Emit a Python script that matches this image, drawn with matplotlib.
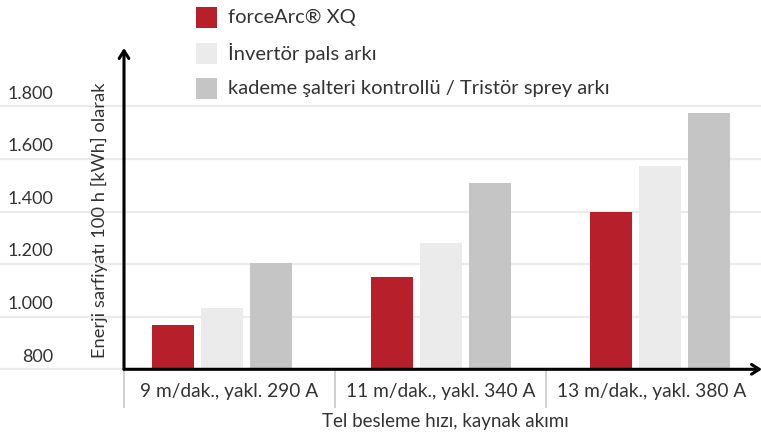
import matplotlib
matplotlib.use("Agg")
import matplotlib.pyplot as plt
import numpy as np

plt.rcParams['font.family'] = ['Lato', 'DejaVu Sans']

# ---- data ----
categories = ["9 m/dak., yakl. 290 A", "11 m/dak., yakl. 340 A", "13 m/dak., yakl. 380 A"]
series_names = ["forceArc® XQ", "İnvertör pals arkı", "kademe şalteri kontrollü / Tristör sprey arkı"]
forcearc = [970, 1150, 1400]
invertor = [1035, 1280, 1572]
kademe = [1205, 1510, 1773]
yticks = [800, 1000, 1200, 1400, 1600, 1800]
ytick_labels = ["800", "1.000", "1.200", "1.400", "1.600", "1.800"]
ylabel = "Enerji sarfiyatı 100 h [kWh] olarak"
xlabel = "Tel besleme hızı, kaynak akımı"

colors = ["#b71f2b", "#ebebeb", "#c5c5c5"]
text_color = "#333333"
grid_color = "#ebebeb"

W, H = 761, 437
fig = plt.figure(figsize=(W / 100, H / 100), dpi=100)
ax_l, ax_r, ax_b, ax_t = 124, 762, 369.3, 48
ax = fig.add_axes([ax_l / W, 1 - ax_b / H, (ax_r - ax_l) / W, (ax_b - ax_t) / H])

x = np.arange(len(categories))
off = 0.224
bw = 0.192
for i, (vals, c) in enumerate(zip([forcearc, invertor, kademe], colors)):
    ax.bar(x + (i - 1) * off, vals, width=bw, color=c, zorder=3)

ax.set_xlim(-0.4475, 2.466)
ax.set_ylim(800, 2022)

# gridlines spanning full figure width
xmin_frac = -ax_l / (ax_r - ax_l)
xmax_frac = (W - ax_l) / (ax_r - ax_l)
for yv in yticks:
    ax.axhline(yv, xmin=xmin_frac, xmax=xmax_frac, color=grid_color, lw=1.6,
               zorder=1, clip_on=False)

for s in ax.spines.values():
    s.set_visible(False)
ax.set_xticks([])
ax.set_yticks([])

# y tick labels above gridlines, right aligned at x=53px
trans_y = matplotlib.transforms.blended_transform_factory(fig.transFigure, ax.transData)
px_per_unit = (ax_b - ax_t) / (2022 - 800)
for yv, lab in zip(yticks, ytick_labels):
    ax.text(53 / W, yv + 12.7 / px_per_unit, lab, transform=trans_y, ha='right', va='center',
            fontsize=13, color=text_color, clip_on=False)

# axes arrows
ax.annotate("", xy=(0, 1), xytext=(0, 0), xycoords='axes fraction',
            arrowprops=dict(arrowstyle='->,head_length=0.55,head_width=0.35', lw=2.2,
                            color='black', shrinkA=0, shrinkB=0), zorder=5)
ax.annotate("", xy=(1, 0), xytext=(0, 0), xycoords='axes fraction',
            arrowprops=dict(arrowstyle='->,head_length=0.55,head_width=0.35', lw=2.2,
                            color='black', shrinkA=0, shrinkB=0), zorder=5)

# category cells
cell = 211 / (ax_r - ax_l)
div_bottom = -(407 - ax_b) / (ax_b - ax_t)
for k in range(len(categories)):
    ax.plot([k * cell, k * cell], [0, div_bottom], transform=ax.transAxes,
            color="#cccccc", lw=1.3, clip_on=False, zorder=2)
    ax.text((k + 0.5) * cell, -(391 - ax_b) / (ax_b - ax_t), categories[k],
            transform=ax.transAxes, ha='center', va='center', fontsize=13.8,
            color=text_color)

# axis titles
fig.text(445 / W, 1 - 422 / H, xlabel, ha='center', va='center', fontsize=13.5,
         color=text_color)
fig.text(99 / W, 1 - 220 / H, ylabel, ha='center', va='center', rotation=90,
         fontsize=13.2, color=text_color)

# legend
for i, (name, c) in enumerate(zip(series_names, colors)):
    cy = 17.5 + 35.5 * i
    fig.patches.append(matplotlib.patches.Rectangle(
        (196 / W, 1 - (cy + 10.5) / H), 21 / W, 21 / H, transform=fig.transFigure,
        facecolor=c, edgecolor='none'))
    fig.text(228 / W, 1 - cy / H, name, ha='left', va='center', fontsize=14.5,
             color=text_color)

fig.savefig("out.png", dpi=100)
